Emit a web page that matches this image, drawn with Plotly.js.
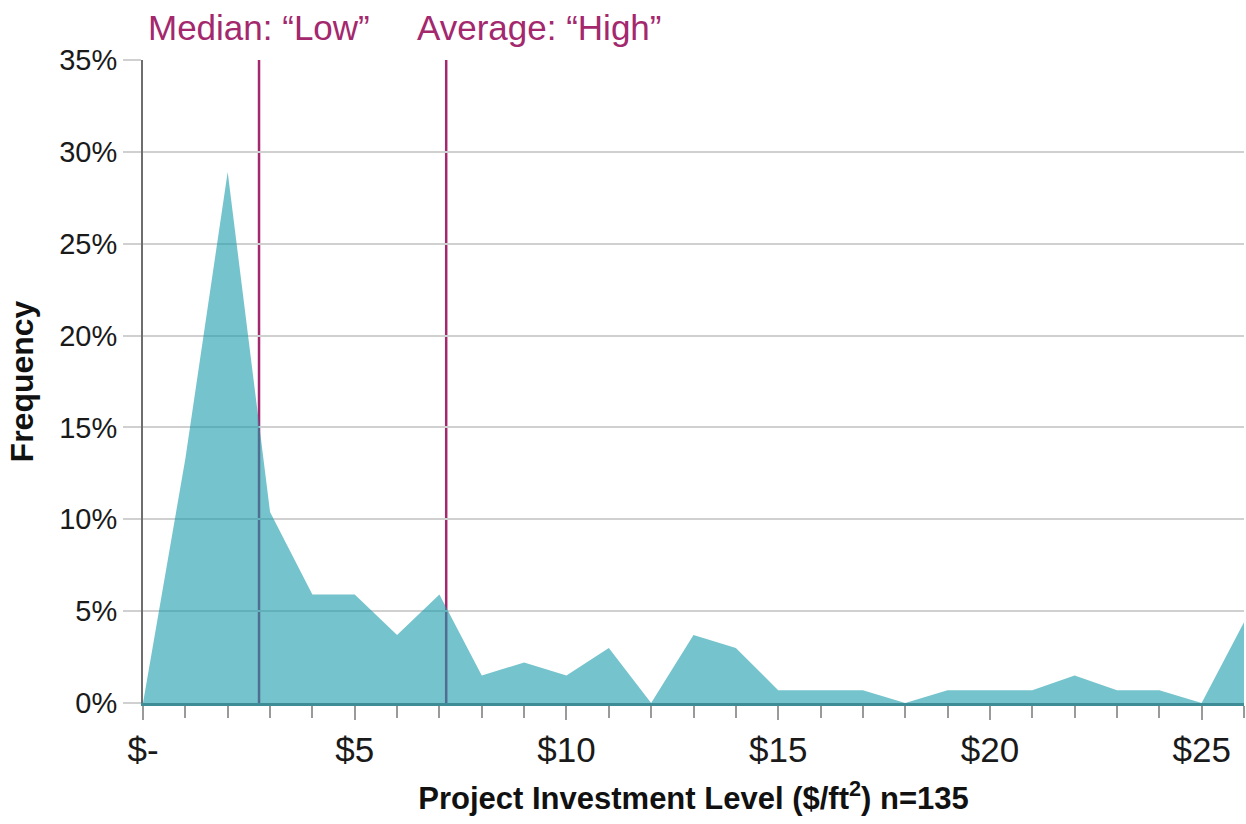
<!DOCTYPE html>
<html>
<head>
<meta charset="utf-8">
<script src="https://cdn.plot.ly/plotly-3.0.1.min.js"></script>
<style>html,body{margin:0;padding:0;background:#fff;}#chart{width:1246px;height:824px;}</style>
</head>
<body>
<div id="chart"></div>
<script>
// Investment level bins ($/ft2) and share of projects (%)
const investmentLevels = [0,1,2,3,4,5,6,7,8,9,10,11,12,13,14,15,16,17,18,19,20,21,22,23,24,25,26];
const frequencyPct = [0,13.3,28.9,10.4,5.9,5.9,3.7,5.9,1.5,2.2,1.5,3.0,0,3.7,3.0,0.7,0.7,0.7,0,0.7,0.7,0.7,1.5,0.7,0.7,0,4.4];
const tickValues = [0,5,10,15,20,25];
const tickLabels = ['$-','$5','$10','$15','$20','$25'];
const medianValue = 2.74;
const averageValue = 7.16;
const medianLabel = 'Median: \u201cLow\u201d';
const averageLabel = 'Average: \u201cHigh\u201d';
const averageLabelX = 6.43;

const FONT = '"Liberation Sans", Arial, sans-serif';
const MAGENTA = '#a3286e';

const trace = {
  type: 'scatter',
  mode: 'lines',
  x: investmentLevels,
  y: frequencyPct,
  fill: 'tozeroy',
  fillcolor: 'rgba(25,155,170,0.6)',
  line: {color: 'rgba(0,0,0,0)', width: 0},
  hoverinfo: 'skip',
  showlegend: false
};

const layout = {
  width: 1246, height: 824,
  margin: {l: 143, r: 2, t: 60, b: 121},
  paper_bgcolor: '#fff', plot_bgcolor: '#fff',
  font: {family: FONT, color: '#1a1a1a'},
  showlegend: false,
  xaxis: {
    range: [0, 26],
    tickvals: tickValues,
    ticktext: tickLabels,
    ticks: 'outside', ticklen: 14, tickwidth: 2, tickcolor: '#9a9a9a',
    minor: {dtick: 1, ticks: 'outside', ticklen: 12, tickwidth: 2, tickcolor: '#9a9a9a', showgrid: false},
    showgrid: false, zeroline: false,
    showline: true, linecolor: '#3d8c96', linewidth: 3,
    tickfont: {family: FONT, size: 35, color: '#1a1a1a'},
    title: {text: '<b>Project Investment Level ($/ft<sup>2</sup>) n=135</b>', font: {family: FONT, size: 31, color: '#111'}, standoff: 20}
  },
  yaxis: {
    range: [0, 35],
    dtick: 5,
    ticksuffix: '%',
    ticks: 'outside', ticklen: 18, tickwidth: 2, tickcolor: '#d0d0d0',
    showgrid: true, gridcolor: '#d0d0d0', gridwidth: 2,
    zeroline: false,
    showline: true, linecolor: '#6e6e6e', linewidth: 2,
    tickfont: {family: FONT, size: 29, color: '#1a1a1a'},
    title: {text: '<b>Frequency</b>', font: {family: FONT, size: 32, color: '#111'}, standoff: 16}
  },
  shapes: [
    {type: 'line', xref: 'x', yref: 'y', x0: medianValue, x1: medianValue, y0: 0, y1: 35, layer: 'below', line: {color: MAGENTA, width: 2.5}},
    {type: 'line', xref: 'x', yref: 'y', x0: averageValue, x1: averageValue, y0: 0, y1: 35, layer: 'below', line: {color: MAGENTA, width: 2.5}}
  ],
  annotations: [
    {text: medianLabel, xref: 'x', yref: 'paper', x: medianValue, y: 1.05, xanchor: 'center', yanchor: 'middle', showarrow: false, font: {family: FONT, size: 35, color: MAGENTA}},
    {text: averageLabel, xref: 'x', yref: 'paper', x: averageLabelX, y: 1.05, xanchor: 'left', yanchor: 'middle', showarrow: false, font: {family: FONT, size: 35, color: MAGENTA}}
  ]
};

Plotly.newPlot('chart', [trace], layout, {displayModeBar: false, staticPlot: true});
</script>
</body>
</html>
